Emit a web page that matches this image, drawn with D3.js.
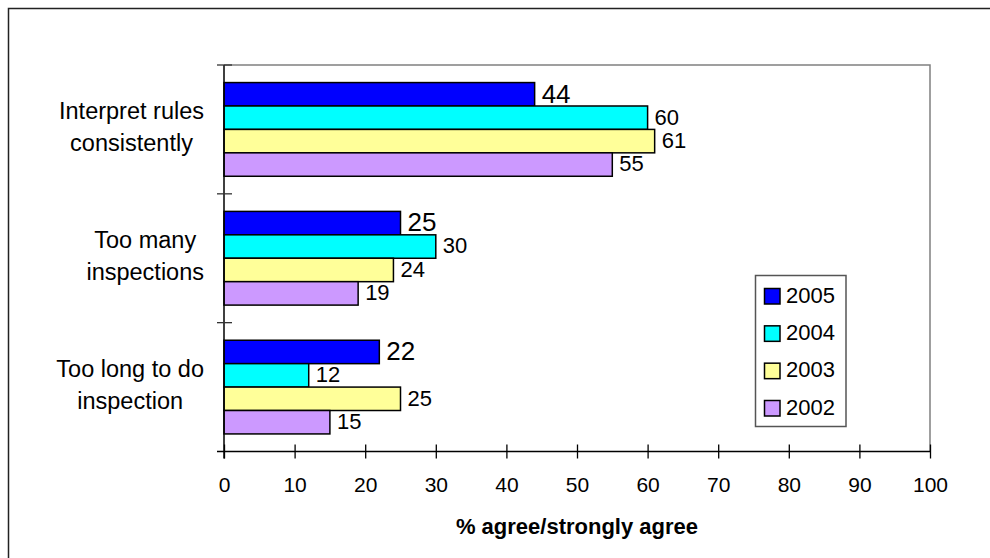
<!DOCTYPE html>
<html>
<head>
<meta charset="utf-8">
<script src="https://cdn.jsdelivr.net/npm/d3@7"></script>
<style>
  html, body { margin: 0; padding: 0; background: #fff; }
  svg { display: block; font-family: "Liberation Sans", Arial, sans-serif; }
</style>
</head>
<body>
<svg id="chart" width="990" height="558"></svg>
<script>
// Survey categories, each label split over two lines
const categories = ["Interpret rules consistently", "Too many inspections", "Too long to do inspection"];
const categoryLines = [["Interpret rules", "consistently"], ["Too many", "inspections"], ["Too long to do", "inspection"]];

// Survey years, top bar first
const years = ["2005", "2004", "2003", "2002"];
const values2005 = [44, 25, 22];
const values2004 = [60, 30, 12];
const values2003 = [61, 24, 25];
const values2002 = [55, 19, 15];
const yearColors = ["#0000FF", "#00FFFF", "#FFFF99", "#CC99FF"];

const xTicks = [0, 10, 20, 30, 40, 50, 60, 70, 80, 90, 100];
const xTitle = "% agree/strongly agree";

const seriesValues = [values2005, values2004, values2003, values2002];

const svg = d3.select("#chart");

// Outer chart frame (top and left edges visible)
svg.append("rect")
  .attr("x", 8.5).attr("y", 8.5)
  .attr("width", 1000).attr("height", 600)
  .attr("fill", "none").attr("stroke", "#222").attr("stroke-width", 1.5);

const plot = { left: 224, right: 930, top: 65, bottom: 451.5 };

const x = d3.scaleLinear().domain([0, 100]).range([plot.left, plot.right]);
const y = d3.scaleBand().domain(categories).range([plot.top, plot.bottom]).padding(0);
const yInner = d3.scaleBand().domain(years).range([0, y.bandwidth()])
  .paddingInner(0).paddingOuter(0.75);

// Plot area border (top and right, grey)
svg.append("path")
  .attr("d", `M${plot.left},${plot.top}H${plot.right}V${plot.bottom}`)
  .attr("fill", "none").attr("stroke", "#808080").attr("stroke-width", 1.5);

// Bars
const rows = [];
categories.forEach((c, ci) => {
  years.forEach((yr, si) => {
    rows.push({ cat: c, year: yr, si, value: seriesValues[si][ci] });
  });
});

svg.append("g").selectAll("rect")
  .data(rows)
  .join("rect")
  .attr("x", x(0))
  .attr("y", d => y(d.cat) + yInner(d.year))
  .attr("width", d => x(d.value) - x(0))
  .attr("height", yInner.bandwidth())
  .attr("fill", d => yearColors[d.si])
  .attr("stroke", "#000")
  .attr("stroke-width", 1.5);

// Value labels (2005 set in a larger size)
svg.append("g").selectAll("text")
  .data(rows)
  .join("text")
  .attr("x", d => x(d.value) + 7)
  .attr("y", d => {
    const fs = d.si === 0 ? 26 : 22;
    return y(d.cat) + yInner(d.year) + yInner.bandwidth() / 2 + 0.36 * fs - 1;
  })
  .attr("font-size", d => d.si === 0 ? 26 : 22)
  .attr("fill", "#000")
  .text(d => d.value);

// X axis
const xAxis = d3.axisBottom(x).tickValues(xTicks).tickSize(0).tickPadding(0);
const gx = svg.append("g").attr("transform", `translate(0,${plot.bottom})`).call(xAxis);
gx.select(".domain").remove();
gx.selectAll(".tick text").remove();
gx.selectAll(".tick").append("line")
  .attr("y1", -7).attr("y2", 7).attr("stroke", "#000").attr("stroke-width", 1.3);
gx.selectAll(".tick").append("text")
  .attr("y", 40).attr("text-anchor", "middle")
  .attr("font-size", 21).attr("fill", "#000")
  .text(d => d);
svg.append("line")
  .attr("x1", 217).attr("x2", plot.right)
  .attr("y1", plot.bottom).attr("y2", plot.bottom)
  .attr("stroke", "#000").attr("stroke-width", 1.5);

// Y axis with crossing tick marks between categories
svg.append("line")
  .attr("x1", plot.left).attr("x2", plot.left)
  .attr("y1", plot.top).attr("y2", plot.bottom + 7)
  .attr("stroke", "#000").attr("stroke-width", 1.5);
const bounds = categories.map(c => y(c)).concat([plot.bottom]);
svg.append("g").selectAll("line")
  .data(bounds.slice(0, 3))
  .join("line")
  .attr("x1", 217).attr("x2", 232)
  .attr("y1", d => d).attr("y2", d => d)
  .attr("stroke", "#333").attr("stroke-width", 1.3);

// Category labels: lines centred within a block whose right edge is fixed
const catG = svg.append("g");
categories.forEach((c, ci) => {
  const cy = y(c) + y.bandwidth() / 2;
  const g = catG.append("g");
  const texts = categoryLines[ci].map((line, li) =>
    g.append("text")
      .attr("y", cy + (li === 0 ? -10 : 21.5))
      .attr("font-size", 23.5)
      .attr("text-anchor", "middle")
      .attr("fill", "#000")
      .text(line)
  );
  const widest = d3.max(texts, t => t.node().getComputedTextLength());
  texts.forEach(t => t.attr("x", 204 - widest / 2));
});

// Axis title
svg.append("text")
  .attr("x", (plot.left + plot.right) / 2)
  .attr("y", 534)
  .attr("text-anchor", "middle")
  .attr("font-size", 22)
  .attr("font-weight", "bold")
  .attr("fill", "#000")
  .text(xTitle);

// Legend
const legend = svg.append("g");
legend.append("rect")
  .attr("x", 755.5).attr("y", 275.5)
  .attr("width", 90.5).attr("height", 151)
  .attr("fill", "#fff").attr("stroke", "#555").attr("stroke-width", 1.5);
const legendY = d3.scalePoint().domain(years).range([296, 408]);
years.forEach((yr, i) => {
  legend.append("rect")
    .attr("x", 764.5).attr("y", legendY(yr) - 7.5)
    .attr("width", 15.5).attr("height", 15.5)
    .attr("fill", yearColors[i]).attr("stroke", "#000").attr("stroke-width", 1.5);
  legend.append("text")
    .attr("x", 786).attr("y", legendY(yr) + 6.5)
    .attr("font-size", 22).attr("fill", "#000")
    .text(yr);
});
</script>
</body>
</html>
